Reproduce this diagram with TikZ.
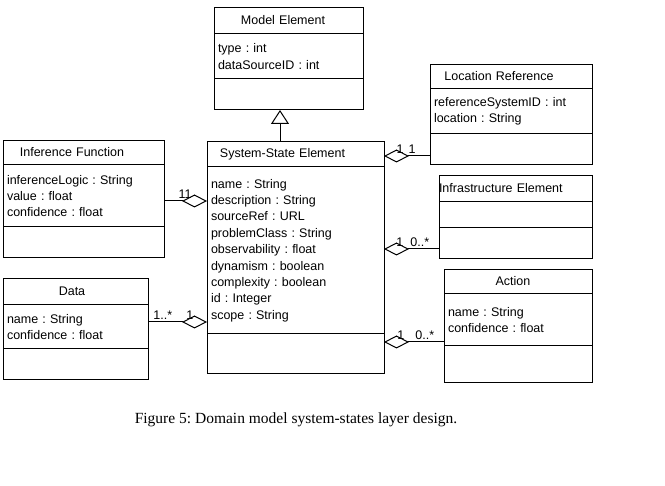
\documentclass[tikz,border=0pt]{standalone}
\usepackage{fontspec}
\setmainfont{Liberation Serif}
\newfontfamily\umlfont{Liberation Sans}
\usepackage{tikz}
\usetikzlibrary{positioning, arrows.meta}
\frenchspacing
\newcommand{\umltitle}[2][130pt]{\makebox[#1][c]{#2}}
\tikzstyle{classtitle} = [rectangle, draw=black, line width=1pt, outer sep=0pt, inner xsep=4pt, inner ysep=0pt, align=left, text height=9pt, text depth=2.5pt, font=\umlfont\fontsize{12.5}{16.4}\selectfont]
\tikzstyle{classbody} = [rectangle, draw=black, line width=1pt, outer sep=0pt, inner xsep=4pt, inner ysep=0pt, align=left, font=\umlfont\fontsize{12.5}{16.4}\selectfont]
\tikzstyle{aggr} = [line width=1pt, -{Diamond[open, length=25pt, width=13pt]}]
\tikzstyle{inherit} = [line width=1pt, -{Triangle[open, length=14pt, width=18pt]}]
\tikzstyle{mult} = [anchor=south, inner sep=2pt, font=\umlfont\fontsize{12.5}{15}\selectfont]

\begin{document}
\begin{tikzpicture}[x=1pt, y=-1pt]
\useasboundingbox (0,0) rectangle (665,486);

% Model Element
\node (modeltitle) [classtitle, anchor=north west, text width=141pt, minimum height=26pt] at (214,8) {\umltitle{Model Element}};
\node (modelattr) [classbody, below=0pt of modeltitle, text width=141pt, minimum height=45pt] {type : int\\dataSourceID : int};
\node (modelops) [classbody, below=0pt of modelattr, text width=141pt, minimum height=31pt] {};

% System-State Element
\node (ssetitle) [classtitle, anchor=north west, text width=169pt, minimum height=25pt] at (207,142) {\umltitle[143pt]{System-State Element}};
\node (sseattr) [classbody, below=0pt of ssetitle, text width=169pt, minimum height=167pt] {name : String\\description : String\\sourceRef : URL\\problemClass : String\\observability : float\\dynamism : boolean\\complexity : boolean\\id : Integer\\scope : String\\[4pt]};
\node (sseops) [classbody, below=0pt of sseattr, text width=169pt, minimum height=40pt] {};

% Location Reference
\node (loctitle) [classtitle, anchor=north west, text width=154pt, minimum height=24pt] at (430,65) {\umltitle{Location Reference}};
\node (locattr) [classbody, below=0pt of loctitle, text width=154pt, minimum height=45pt] {referenceSystemID : int\\location : String};
\node (locops) [classbody, below=0pt of locattr, text width=154pt, minimum height=31pt] {};

% Infrastructure Element
\node (infratitle) [classtitle, anchor=north west, inner xsep=0pt, text width=153pt, minimum height=26pt] at (439,176) {Infrastructure Element};
\node (infraattr) [classbody, below=0pt of infratitle, text width=145pt, minimum height=26pt] {};
\node (infraops) [classbody, below=0pt of infraattr, text width=145pt, minimum height=31pt] {};

% Action
\node (actiontitle) [classtitle, anchor=north west, text width=140pt, minimum height=24pt] at (444,270) {\umltitle{Action}};
\node (actionattr) [classbody, below=0pt of actiontitle, text width=140pt, minimum height=52pt] {name : String\\confidence : float};
\node (actionops) [classbody, below=0pt of actionattr, text width=140pt, minimum height=37pt] {};

% Inference Function
\node (inftitle) [classtitle, anchor=north west, text width=153pt, minimum height=24pt] at (3,141) {\umltitle{Inference Function}};
\node (infattr) [classbody, below=0pt of inftitle, text width=153pt, minimum height=62pt] {inferenceLogic : String\\value : float\\confidence : float};
\node (infops) [classbody, below=0pt of infattr, text width=153pt, minimum height=31pt] {};

% Data
\node (datatitle) [classtitle, anchor=north west, text width=137pt, minimum height=26pt] at (3,279) {\umltitle{Data}};
\node (dataattr) [classbody, below=0pt of datatitle, text width=137pt, minimum height=44pt] {name : String\\confidence : float};
\node (dataops) [classbody, below=0pt of dataattr, text width=137pt, minimum height=31pt] {};

% Caption
\node (caption) at (296,420) {\fontsize{15.5}{18}\selectfont Figure 5: Domain model system-states layer design.};

% Connectors
\coordinate (inhstart) at ([xshift=-15.5pt]ssetitle.north);
\draw [inherit] (inhstart) -- (inhstart |- modelops.south);

\coordinate (locend) at ([yshift=-1.5pt]ssetitle.east);
\draw [aggr] (locend -| locops.west) -- (locend) node[mult, pos=0.39] {1} node[mult, pos=0.65] {1};

\coordinate (infraend) at ([yshift=1.5pt]sseattr.east);
\draw [aggr] (infraend -| infraops.west) -- (infraend) node[mult, pos=0.35] {0..*} node[mult, pos=0.71] {1};

\coordinate (actionend) at ([yshift=12pt]sseops.east);
\draw [aggr] (actionend -| actionattr.west) -- (actionend) node[mult, pos=0.32] {0..*} node[mult, pos=0.72] {1};

\coordinate (infstart) at ([yshift=-5pt]infattr.east);
\draw [aggr] (infstart) -- (infstart -| sseattr.west) node[mult, pos=0.49] {11};

\coordinate (datastart) at ([yshift=5pt]dataattr.east);
\draw [aggr] (datastart) -- (datastart -| sseattr.west) node[mult, pos=0.25] {1..*} node[mult, pos=0.71] {1};

\end{tikzpicture}
\end{document}
